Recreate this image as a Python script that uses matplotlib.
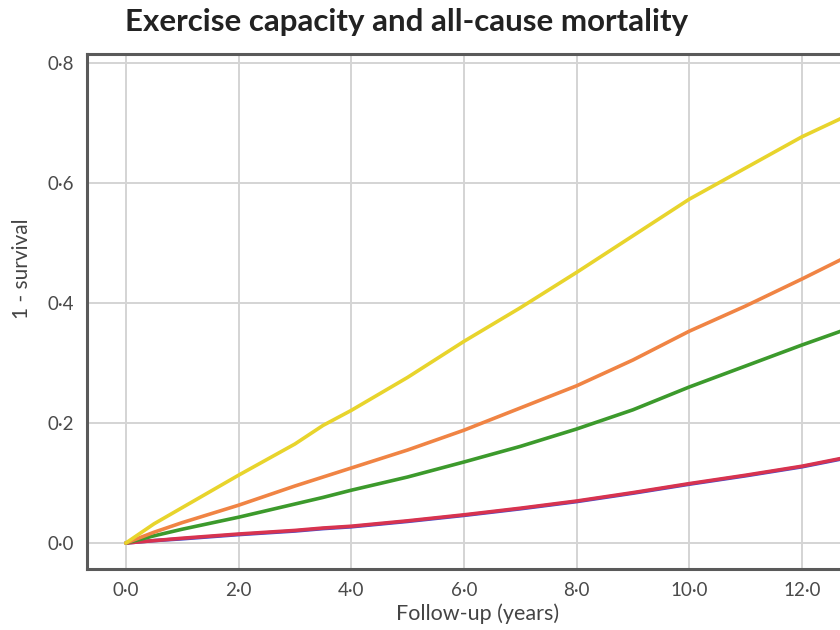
import matplotlib
matplotlib.use("Agg")
import matplotlib.pyplot as plt
from matplotlib.ticker import FuncFormatter

years = [0, 0.25, 0.5, 1, 2, 3, 3.5, 4, 5, 6, 7, 8, 9, 10, 11, 12, 12.75]
yellow = [0, 0.016, 0.032, 0.059, 0.113, 0.165, 0.196, 0.221, 0.276, 0.336, 0.392, 0.451, 0.512, 0.573, 0.625, 0.677, 0.71]
orange = [0, 0.009, 0.018, 0.034, 0.063, 0.095, 0.11, 0.125, 0.155, 0.188, 0.225, 0.262, 0.305, 0.353, 0.395, 0.44, 0.475]
green = [0, 0.006, 0.012, 0.023, 0.043, 0.065, 0.076, 0.088, 0.11, 0.135, 0.161, 0.19, 0.222, 0.26, 0.295, 0.33, 0.355]
red = [0, 0.002, 0.004, 0.008, 0.015, 0.021, 0.025, 0.028, 0.037, 0.047, 0.058, 0.07, 0.084, 0.099, 0.113, 0.128, 0.142]
blue = [0, 0.002, 0.004, 0.007, 0.014, 0.020, 0.024, 0.027, 0.036, 0.046, 0.057, 0.069, 0.083, 0.098, 0.112, 0.127, 0.141]

xticks = [0, 2, 4, 6, 8, 10, 12]
yticks = [0, 0.2, 0.4, 0.6, 0.8]

plt.rcParams['font.family'] = ['Lato', 'DejaVu Sans']

fig = plt.figure(figsize=(8.4, 6.3), dpi=100)
ax = fig.add_axes([87/840, 1-569/630, 1.0, (569-54)/630])

series = [(blue, '#4a4ac8'), (red, '#d8334f'), (green, '#3c9a2c'), (orange, '#f08444'), (yellow, '#e8d42c')]
for vals, col in series:
    ax.plot(years, vals, color=col, lw=2.6, solid_capstyle='round', solid_joinstyle='round')

ax.set_xlim(-0.69, 14.22)
ax.set_ylim(-0.0433, 0.815)
ax.set_xticks(xticks)
ax.set_yticks(yticks)
fmt = FuncFormatter(lambda v, p: f"{v:.1f}".replace('.', '\u00b7'))
ax.xaxis.set_major_formatter(fmt)
ax.yaxis.set_major_formatter(fmt)
ax.tick_params(length=0, labelsize=13.5, labelcolor='#4a4a4a', pad=9)
ax.grid(True, color='#d4d4d4', lw=1.4)
ax.set_axisbelow(True)
for s in ['left', 'bottom', 'top']:
    ax.spines[s].set_color('#5a5a5a')
    ax.spines[s].set_linewidth(2.2)
ax.spines['right'].set_visible(False)

fig.text(478/840, 1-614/630, 'Follow-up (years)', fontsize=15.5, color='#444444', ha='center', va='center')
fig.text(22/840, 1-269/630, '1 - survival', rotation=90, fontsize=15, color='#444444', ha='center', va='center')
fig.text(407/840, 1-22/630, 'Exercise capacity and all-cause mortality', fontsize=22.5, fontweight='bold', color='#222222', ha='center', va='center')

fig.savefig('out.png', dpi=100)
